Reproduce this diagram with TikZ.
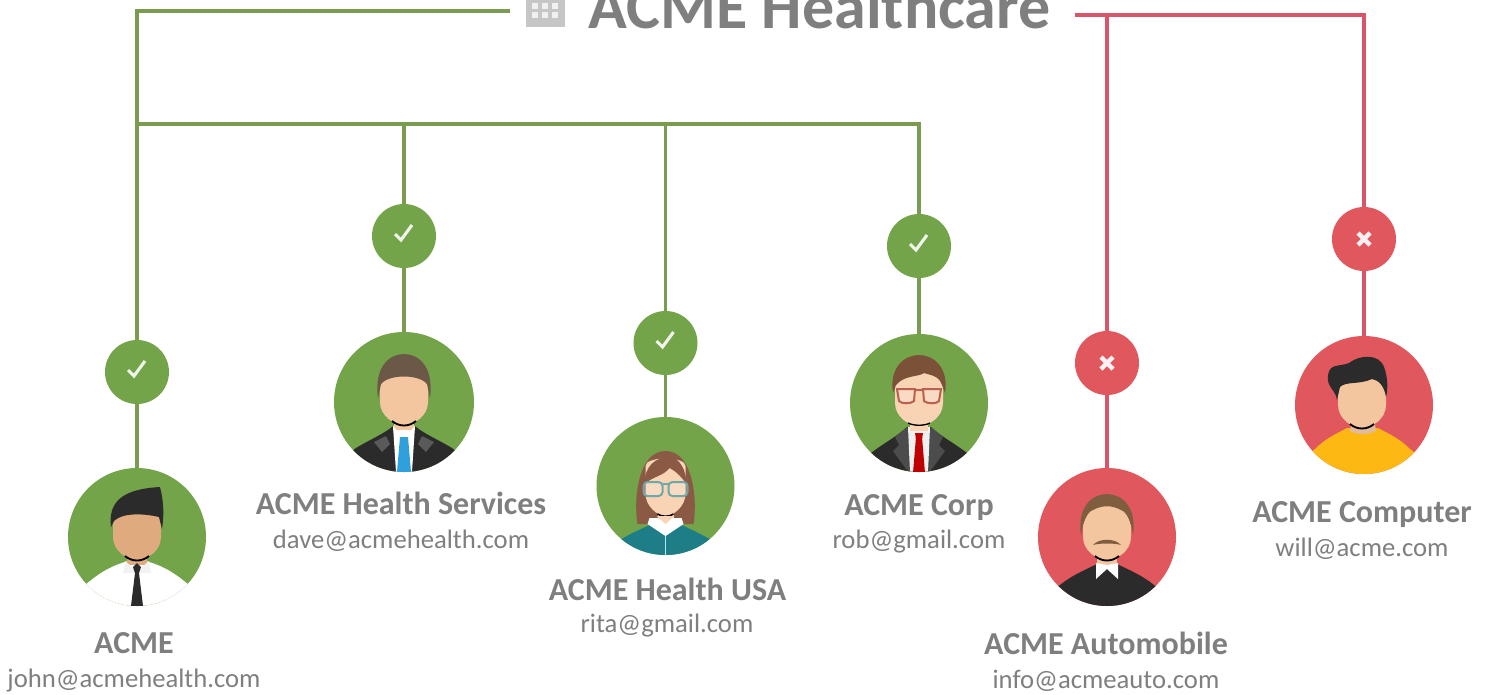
\documentclass[tikz,border=0pt]{standalone}
\usepackage{fontspec}
\setmainfont{Carlito}
\definecolor{gr}{HTML}{74A44A}
\definecolor{rd}{HTML}{E0575E}
\definecolor{gline}{HTML}{7A9C50}
\definecolor{rline}{HTML}{D9566A}
\definecolor{txt}{HTML}{7F7F7F}
\definecolor{skin}{HTML}{F3C6A0}
\definecolor{skinb}{HTML}{DFAA7E}
\definecolor{skinc}{HTML}{F8D3B4}
\definecolor{dark}{HTML}{2B2B2B}
\definecolor{tieblue}{HTML}{2FA0DC}
\definecolor{shirtyellow}{HTML}{FDB813}
\definecolor{hairgrey}{HTML}{6B5847}
\definecolor{hairred}{HTML}{8A5A45}
\definecolor{hairbrown}{HTML}{7B5138}
\definecolor{hairtan}{HTML}{7F5D3F}
\definecolor{topteal}{HTML}{1D7E88}
\definecolor{framered}{HTML}{B9604E}
\definecolor{frameteal}{HTML}{6FA8A8}
\newcommand\avface[1]{\fill[#1] (-24,-20) .. controls (-24,-40) and (24,-40) .. (24,-20) -- (24,0) .. controls (24,14) and (10,23) .. (0,23) .. controls (-10,23) and (-24,14) .. (-24,0) -- cycle;}
\newcommand\avchin{\draw[black,line width=1.4pt] (-12,19) .. controls (-5,25) and (5,25) .. (12,19);}
\tikzset{
  x=0.75pt,y=-0.75pt,
  greenline/.style={gline,line width=2.3pt},
  redline/.style={rline,line width=2.3pt},
  avatar/.style={circle,inner sep=0pt,minimum size=103.5pt},
  badge/.style={circle,inner sep=0pt,minimum size=48pt},
  goodfill/.style={fill=gr},
  badfill/.style={fill=rd},
  tickmark/.style={white!90!gr,line width=2.3pt},
  crossmark/.style={white!92!rd,line width=3.4pt},
  nametext/.style={anchor=base,text=txt,font=\fontsize{24}{26}\selectfont\bfseries,inner sep=0pt},
  mailtext/.style={anchor=base,text=txt,font=\fontsize{20}{22}\selectfont,inner sep=0pt},
}
\begin{document}
\begin{tikzpicture}
\useasboundingbox (0,0) rectangle (1490,694);
\clip (0,0) rectangle (1490,694);
\fill[white] (0,0) rectangle (1490,694);
% title
\node[anchor=base,text=txt,font=\fontsize{48}{52}\selectfont\bfseries,inner sep=0pt] (title) at (819.5,28) {ACME Healthcare};
\coordinate (gstart) at (510,11);
\coordinate (gcorner) at (137,11);
\coordinate (gbranch) at (137,124);
\coordinate (gend) at (919,124);
\coordinate (rstart) at (1075,15);
\coordinate (rcorner) at (1364,15);
\coordinate (rdrop) at (1107,15);
\coordinate (g2) at (404,124);
\coordinate (g3) at (665.5,124);
% building icon
\fill[gray!45] (526,0) rectangle (565,27);
\foreach \bx in {532,542,552}\foreach \by in {3,12}
  \fill[gray!12] (\bx,\by) rectangle ++(6,6);
% badges and avatars
\node[avatar,goodfill] (a1) at (137,537) {};
\node[avatar,goodfill,minimum size=105pt] (a2) at (404,402) {};
\node[avatar,goodfill] (a3) at (665.5,486) {};
\node[avatar,goodfill] (a4) at (919,403) {};
\node[avatar,badfill] (a5) at (1107,537) {};
\node[avatar,badfill] (a6) at (1364,405) {};
\node[badge,goodfill] (b1) at (137,372) {};
\node[badge,goodfill] (b2) at (404,236) {};
\node[badge,goodfill] (b3) at (665.5,343) {};
\node[badge,goodfill] (b4) at (919,246) {};
\node[badge,badfill] (b5) at (1107,363) {};
\node[badge,badfill] (b6) at (1364,239) {};
% connectors
\draw[greenline] (gstart) -- (gcorner) -- (b1);
\draw[greenline] (b1) -- (a1);
\draw[greenline] (gbranch) -- (gend) -- (b4);
\draw[greenline] (b4) -- (a4);
\draw[greenline] (g2) -- (b2);
\draw[greenline] (b2) -- (a2);
\draw[greenline] (g3) -- (b3);
\draw[greenline] (b3) -- (a3);
\draw[redline] (rstart) -- (rcorner) -- (b6);
\draw[redline] (b6) -- (a6);
\draw[redline] (rdrop) -- (b5);
\draw[redline] (b5) -- (a5);
% marks
\foreach \b in {b1,b2,b3,b4}
  \draw[tickmark,shift={(\b.center)}] (-9,-2) -- (-3,4) -- (8,-11);
\foreach \b in {b5,b6}
  \draw[crossmark,shift={(\b.center)}] (-6,-6) -- (6,6) (-6,6) -- (6,-6);
% avatar 1
\begin{scope}[shift={(a1.center)}]
\clip (0,0) circle (69);
\fill[white] (-80,70) -- (-47,44) .. controls (-30,30) and (-15,25) .. (0,22) .. controls (15,25) and (30,30) .. (47,44) -- (80,70) -- (0,90) -- cycle;
\fill[skinb] (-10,10) rectangle (10,28);
\fill[gray!10] (-12,24) -- (0,34) -- (12,24) -- (14,36) -- (-14,36) -- cycle;
\avface{skinb}
\avchin
\fill[dark] (-26,-10) .. controls (-29,-35) and (-15,-48) .. (23,-50) .. controls (27,-35) and (27,-20) .. (25,-8) -- (22,-20) .. controls (5,-24) and (-15,-24) .. (-23,-16) -- cycle;
\fill[dark] (-4,30) -- (0,26) -- (4,30) -- (2,36) -- (6,69) -- (-6,69) -- (-2,36) -- cycle;
\end{scope}
% avatar 2
\begin{scope}[shift={(a2.center)}]
\clip (0,0) circle (70);
\fill[dark] (-80,70) -- (-48,46) .. controls (-35,38) and (-20,32) .. (-11,24) -- (11,24) .. controls (20,32) and (35,38) .. (48,46) -- (80,70) -- cycle;
\fill[white] (-11,24) -- (11,24) -- (8,70) -- (-8,70) -- cycle;
\fill[skin] (-10,10) rectangle (10,28);
\fill[white] (-11,24) -- (0,36) -- (-8,44) -- cycle;
\fill[white] (11,24) -- (0,36) -- (8,44) -- cycle;
\fill[gray!70!black] (-22,50) -- (-30,40) -- (-18,34) -- (-14,42) -- cycle;
\fill[gray!70!black] (22,50) -- (30,40) -- (18,34) -- (14,42) -- cycle;
\fill[tieblue] (-4,35) -- (4,35) -- (7,70) -- (-7,70) -- cycle;
\avface{skin}
\avchin
\fill[hairgrey] (-26,-4) .. controls (-30,-35) and (-15,-48) .. (0,-48) .. controls (15,-48) and (30,-35) .. (26,-4) -- (23,-18) .. controls (15,-28) and (-15,-28) .. (-23,-18) -- cycle;
\end{scope}
% avatar 3
\begin{scope}[shift={(a3.center)}]
\clip (0,0) circle (69);
\fill[hairred] (-28,38) .. controls (-32,15) and (-28,-35) .. (0,-35) .. controls (28,-35) and (32,15) .. (28,38) -- cycle;
\fill[topteal] (-80,70) -- (-44,53) .. controls (-32,46) and (-22,42) .. (-14,38) -- (14,38) .. controls (22,42) and (32,46) .. (44,53) -- (80,70) -- cycle;
\fill[skinc] (-8,20) rectangle (8,40);
\fill[skinc] (-20,-20) .. controls (-20,-30) and (20,-30) .. (20,-20) -- (20,8) .. controls (20,20) and (8,30) .. (0,30) .. controls (-8,30) and (-20,20) .. (-20,8) -- cycle;
\draw[black,line width=1.2pt] (-8,28) .. controls (-4,31) and (4,31) .. (8,28);
\fill[hairred] (-21,-2) .. controls (-21,-20) and (-10,-29) .. (4,-29) .. controls (14,-29) and (21,-15) .. (21,-2) .. controls (14,-12) and (8,-16) .. (4,-18) .. controls (-2,-10) and (-12,-10) .. (-21,-2) -- cycle;
\draw[frameteal,line width=1.5pt,fill=white,fill opacity=.2,rounded corners=3pt] (-22,-4) rectangle (-3,10) (3,-4) rectangle (22,10);
\draw[frameteal,line width=1.5pt] (-3,-2) -- (3,-2);
\fill[white] (-16,32) -- (16,32) -- (18,38) -- (0,50) -- (-18,38) -- cycle;
\fill[skinc] (-9,30) -- (9,30) -- (0,38) -- cycle;
\draw[cyan!30!white,line width=1pt] (0,50) -- (0,69);
\end{scope}
% avatar 4
\begin{scope}[shift={(a4.center)}]
\clip (0,0) circle (69);
\fill[dark] (-80,70) -- (-48,50) .. controls (-35,40) and (-20,32) .. (-12,24) -- (12,24) .. controls (20,32) and (35,40) .. (48,50) -- (80,70) -- cycle;
\fill[gray!60!black] (-12,24) -- (-24,34) -- (-20,42) -- (-26,48) -- (-10,70) -- (-7,34) -- cycle;
\fill[gray!60!black] (12,24) -- (24,34) -- (20,42) -- (26,48) -- (10,70) -- (7,34) -- cycle;
\fill[gray!12] (-11,24) -- (11,24) -- (9,70) -- (-9,70) -- cycle;
\fill[skinc] (-9,10) rectangle (9,28);
\fill[red!75!black] (-3,34) -- (3,34) -- (6,70) -- (-6,70) -- cycle;
\fill[red!75!black] (-4,30) -- (4,30) -- (3,36) -- (-3,36) -- cycle;
\avface{skinc}
\draw[black,line width=1pt] (-11,20) .. controls (-5,23) and (5,23) .. (11,20);
\fill[hairbrown] (-26,-10) .. controls (-30,-35) and (-15,-48) .. (0,-48) .. controls (15,-48) and (30,-35) .. (26,-10) -- (23,-18) .. controls (20,-28) and (10,-28) .. (5,-30) .. controls (0,-26) and (-15,-28) .. (-23,-18) -- cycle;
\draw[framered,line width=1.5pt,fill=white,fill opacity=.2] (-22,-14) -- (-4,-14) -- (-5,-2) .. controls (-8,1) and (-18,1) .. (-20,-2) -- cycle (22,-14) -- (4,-14) -- (5,-2) .. controls (8,1) and (18,1) .. (20,-2) -- cycle;
\draw[framered,line width=1.5pt] (-4,-13) -- (4,-13);
\end{scope}
% avatar 5
\begin{scope}[shift={(a5.center)}]
\clip (0,0) circle (69);
\fill[dark] (-80,70) -- (-47,48) .. controls (-35,38) and (-20,32) .. (-10,27) -- (10,27) .. controls (20,32) and (35,38) .. (47,48) -- (80,70) -- cycle;
\fill[skin] (-10,10) rectangle (10,28);
\fill[white] (-11,26) -- (0,28) -- (11,26) -- (11,42) -- (0,32) -- (-11,42) -- cycle;
\avface{skin}
\avchin
\fill[hairtan] (-26,-2) .. controls (-30,-30) and (-15,-43) .. (0,-43) .. controls (15,-43) and (30,-30) .. (26,-2) .. controls (24,-15) and (20,-25) .. (14,-27) .. controls (5,-32) and (-5,-32) .. (-14,-27) .. controls (-20,-25) and (-24,-15) .. (-26,-2) -- cycle;
\fill[hairtan] (-14,8) .. controls (-8,1) and (8,1) .. (14,8) .. controls (8,6) and (-8,6) .. (-14,8) -- cycle;
\end{scope}
% avatar 6
\begin{scope}[shift={(a6.center)}]
\clip (0,0) circle (69);
\fill[shirtyellow] (-80,70) -- (-49,44) .. controls (-38,33) and (-28,29) .. (-17,23) -- (14,23) .. controls (25,29) and (35,33) .. (46,44) -- (80,70) -- cycle;
\fill[gray!15!skin] (-12,12) -- (10,12) -- (12,26) .. controls (5,30) and (-8,30) .. (-14,26) -- cycle;
\begin{scope}[xshift=-1.5pt]
\avface{skin}
\avchin
\end{scope}
\fill[dark] (-27,-5) .. controls (-28,-15) and (-38,-18) .. (-36,-30) .. controls (-34,-42) and (-25,-38) .. (-15,-42) .. controls (-5,-50) and (15,-52) .. (20,-38) .. controls (24,-28) and (24,-15) .. (22,-8) .. controls (20,-20) and (14,-25) .. (8,-26) .. controls (-5,-20) and (-18,-24) .. (-24,-18) -- cycle;
\end{scope}
% labels
\node[nametext] (n1) at (134,653) {ACME};
\node[mailtext] (m1) at (134,687) {john@acmehealth.com};
\node[nametext] (n2) at (401,514) {ACME Health Services};
\node[mailtext] (m2) at (401,548) {dave@acmehealth.com};
\node[nametext] (n3) at (667.5,600) {ACME Health USA};
\node[mailtext] (m3) at (667,632) {rita@gmail.com};
\node[nametext] (n4) at (919,515) {ACME Corp};
\node[mailtext] (m4) at (919,548) {rob@gmail.com};
\node[nametext] (n5) at (1106,654) {ACME Automobile};
\node[mailtext] (m5) at (1106,688) {info@acmeauto.com};
\node[nametext] (n6) at (1362,522) {ACME Computer};
\node[mailtext] (m6) at (1362,556) {will@acme.com};
\end{tikzpicture}
\end{document}
